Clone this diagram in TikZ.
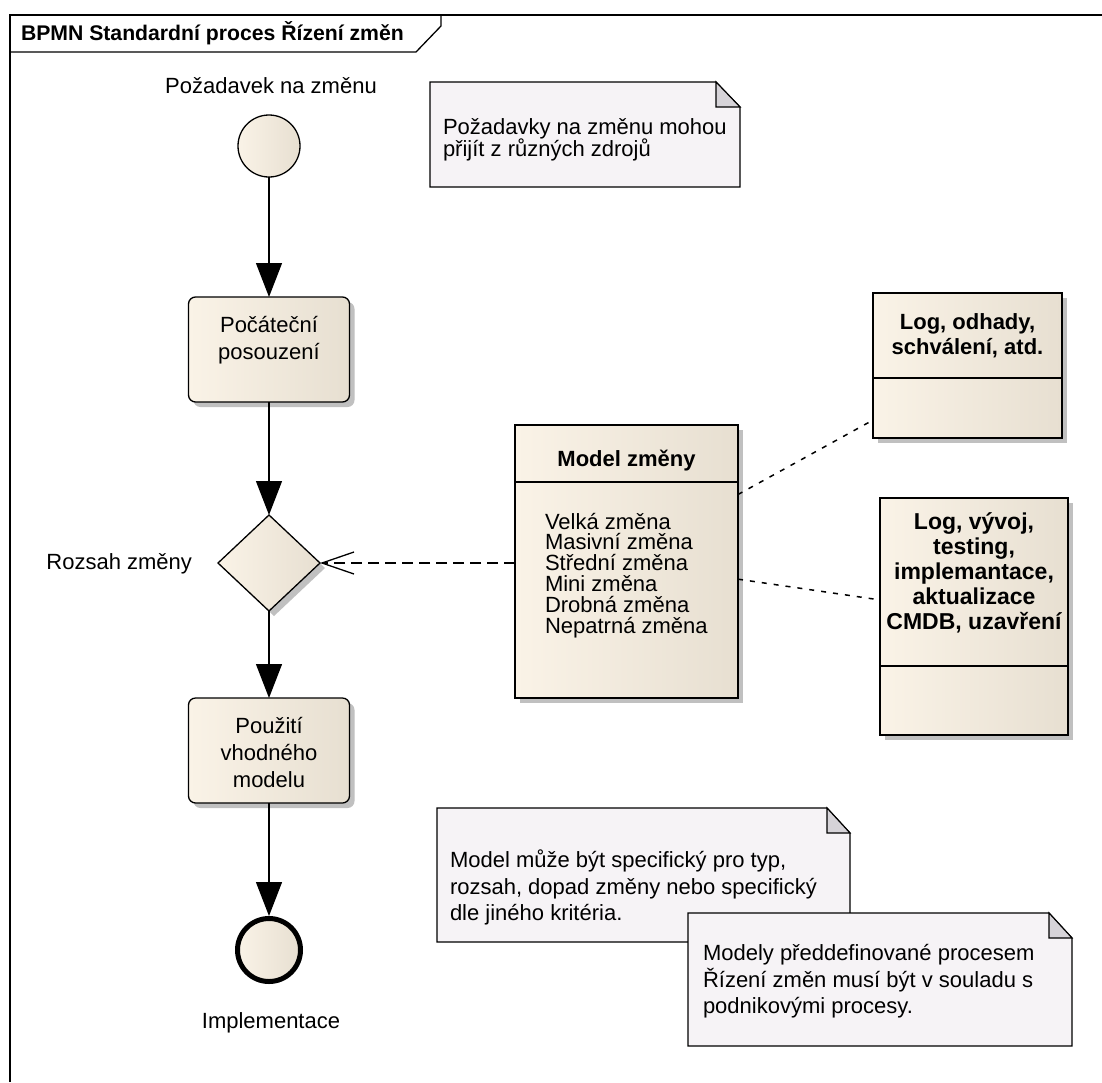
\documentclass[tikz,border=0pt]{standalone}
\usepackage{fontspec}
\setmainfont{Liberation Sans}
\usetikzlibrary{arrows.meta,shapes.geometric,shadows,calc}

\definecolor{fillL}{RGB}{250,243,231}
\definecolor{fillR}{RGB}{231,223,209}
\definecolor{noteFill}{RGB}{246,243,246}
\definecolor{foldFill}{RGB}{214,211,216}
\definecolor{shade}{RGB}{192,192,192}

\newcommand\txt{\fontsize{22}{27}\selectfont}
\newcommand\topstrut{\rule{0pt}{20pt}}

\begin{document}
\lineskiplimit=-100pt
\begin{tikzpicture}[x=1pt,y=-1pt,
  every node/.style={inner sep=0pt, outer sep=0pt},
  body/.style={draw=black, line width=1.3pt, left color=fillL, right color=fillR},
  shadowed/.style={general shadow={fill=shade, shadow xshift=5pt, shadow yshift=-5pt}},
  taskbox/.style={body, shadowed, rectangle, rounded corners=7pt, minimum width=161pt, minimum height=105pt},
  classbox/.style={body, shadowed, rectangle},
  flow/.style={line width=1.3pt, -{Triangle[length=34pt,width=26pt]}},
  assoc/.style={line width=1.3pt, dash pattern=on 11pt off 6pt, -{Straight Barb[length=32pt,width=22pt]}},
  link/.style={line width=1.5pt, dash pattern=on 5pt off 7pt},
  label/.style={font=\txt},
  notebox/.style={rectangle},
  notepath/.style={line width=1.3pt, draw=black, fill=noteFill},
  foldpath/.style={line width=1.1pt, draw=black, fill=foldFill},
]
\useasboundingbox (0,0) rectangle (1102,1082);
\fill[white] (0,0) rectangle (1102,1082);

% diagram frame and its name tab
\draw[line width=1.3pt] (10,1082) -- (10,15) -- (1102,15);
\draw[line width=1.3pt] (10,52) -- (416,52) -- (441,26) -- (441,15);
\node[anchor=base west, font=\fontsize{21.2}{25}\selectfont\bfseries] (title) at (21,40) {BPMN Standardní proces Řízení změn};

% start event
\node[circle, body, minimum size=62pt] (start) at (269,146) {};
\node[label, anchor=base] (startlbl) at (271,93) {Požadavek na změnu};

% first task
\node[taskbox] (t1) at (269,349.5) {};
\node[label, align=center, anchor=north] (t1txt) at ($(t1.north)+(0,15)$) {\topstrut Počáteční\\posouzení};

% gateway
\node[diamond, body, shadowed, minimum width=102pt, minimum height=96pt] (gw) at (269,563) {};
\node[label, anchor=base east] (gwlbl) at (192,569) {Rozsah změny};

% second task
\node[taskbox] (t2) at (269,750.5) {};
\node[label, align=center, anchor=north] (t2txt) at ($(t2.north)+(0,15)$) {\topstrut Použití\\vhodného\\modelu};

% end event
\node[circle, draw=black, line width=5pt, left color=fillL, right color=fillR, minimum size=63pt, outer sep=2.5pt] (end) at (269,950) {};
\node[label, anchor=base] (endlbl) at (271,1028) {Implementace};

% sequence flows
\draw[flow] (start) -- (t1);
\draw[flow] (t1) -- (gw);
\draw[flow] (gw) -- (t2);
\draw[flow] (t2) -- (end);

% change model class
\node[classbox, minimum width=223pt, minimum height=273pt] (model) at (626.5,561.5) {};
\draw[line width=1.3pt] ($(model.north west)+(0,57)$) -- ($(model.north east)+(0,57)$);
\node[font=\fontsize{22}{25}\selectfont\bfseries, anchor=base] (modeltitle) at ($(model.north)+(0,41)$) {Model změny};
\node[font=\fontsize{22}{20.8}\selectfont, align=left, anchor=north west] (modelitems) at (545,509)
  {\topstrut Velká změna\\Masivní změna\\Střední změna\\Mini změna\\Drobná změna\\Nepatrná změna};

% log classes
\node[classbox, minimum width=189pt, minimum height=145pt] (boxA) at (967.5,365.5) {};
\draw[line width=1.3pt] ($(boxA.north west)+(0,85)$) -- ($(boxA.north east)+(0,85)$);
\node[font=\fontsize{22}{25}\selectfont\bfseries, align=center, anchor=north] (boxAtxt) at ($(boxA.north)+(0,16)$)
  {\topstrut Log, odhady,\\schválení, atd.};

\node[classbox, minimum width=188pt, minimum height=237pt] (boxB) at (974,616.5) {};
\draw[line width=1.3pt] ($(boxB.north west)+(0,168)$) -- ($(boxB.north east)+(0,168)$);
\node[font=\fontsize{23}{25}\selectfont\bfseries, align=center, anchor=north] (boxBtxt) at ($(boxB.north)+(0,11)$)
  {\topstrut Log, vývoj,\\testing,\\implemantace,\\aktualizace\\CMDB, uzavření};

% associations
\draw[assoc] (model.west |- gw.east) -- (gw.east);
\draw[link] (model.31.6) -- (boxA.210.4);
\draw[link] (model.-9.4) -- (boxB.170.6);

% notes
\node[notebox, minimum width=310pt, minimum height=105pt] (note1) at (585,134.5) {};
\draw[notepath] (note1.north west) -- ($(note1.north east)+(-24,0)$) -- ($(note1.north east)+(0,25)$) -- (note1.south east) -- (note1.south west) -- cycle;
\draw[foldpath] ($(note1.north east)+(-24,0)$) -- ($(note1.north east)+(-24,25)$) -- ($(note1.north east)+(0,25)$) -- cycle;
\node[font=\fontsize{22}{22.5}\selectfont, align=left, anchor=north west] (note1txt) at (443,114)
  {\topstrut Požadavky na změnu mohou\\přijít z různých zdrojů};

\node[notebox, minimum width=413pt, minimum height=134pt] (note2) at (643.5,875) {};
\draw[notepath] (note2.north west) -- ($(note2.north east)+(-23,0)$) -- ($(note2.north east)+(0,25)$) -- (note2.south east) -- (note2.south west) -- cycle;
\draw[foldpath] ($(note2.north east)+(-23,0)$) -- ($(note2.north east)+(-23,25)$) -- ($(note2.north east)+(0,25)$) -- cycle;
\node[font=\fontsize{22}{26.5}\selectfont, align=left, anchor=north west] (note2txt) at (450,847.5)
  {\topstrut Model může být specifický pro typ,\\rozsah, dopad změny nebo specifický\\dle jiného kritéria.};

\node[notebox, minimum width=384pt, minimum height=133pt] (note3) at (880,979.5) {};
\draw[notepath] (note3.north west) -- ($(note3.north east)+(-23,0)$) -- ($(note3.north east)+(0,25)$) -- (note3.south east) -- (note3.south west) -- cycle;
\draw[foldpath] ($(note3.north east)+(-23,0)$) -- ($(note3.north east)+(-23,25)$) -- ($(note3.north east)+(0,25)$) -- cycle;
\node[font=\fontsize{22}{26.5}\selectfont, align=left, anchor=north west] (note3txt) at (703,940.5)
  {\topstrut Modely předdefinované procesem\\Řízení změn musí být v souladu s\\podnikovými procesy.};
\end{tikzpicture}
\end{document}
